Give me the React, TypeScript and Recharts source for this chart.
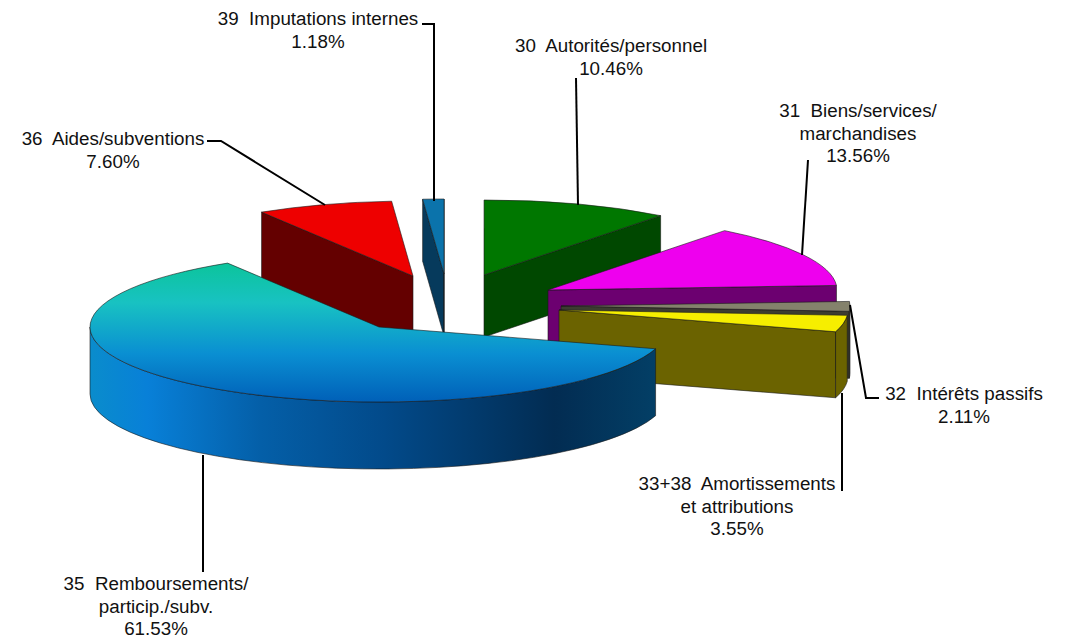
import React from "react";
import { PieChart, Pie } from "recharts";

// drawing order is back to front, so the list starts at "36" and the big slice comes last
const codes = ["36", "39", "30", "31", "32", "33", "35"];
const values = [7.6, 1.18, 10.46, 13.56, 2.11, 3.55, 61.53];
const labelLines = [
  ["36  Aides/subventions"],
  ["39  Imputations internes"],
  ["30  Autorités/personnel"],
  ["31  Biens/services/", "marchandises"],
  ["32  Intérêts passifs"],
  ["33+38  Amortissements", "et attributions"],
  ["35  Remboursements/", "particip./subv."],
];

const rows = codes.map((code, i) => ({ code, name: labelLines[i].join(" "), value: values[i] }));

// layout of the exploded 3D look
const CX = 444;
const CY = 290;
const RX = 289;
const RY = 75;

const apex: Record<string, number[]> = {
  "36": [413, 276, 72],
  "39": [444, 274, 62],
  "30": [484, 275, 62],
  "31": [548, 290, 62],
  "32": [561, 306, 67],
  "33": [559, 310, 66],
  "35": [379, 327, 67],
};
const topFill: Record<string, string> = {
  "36": "#ee0000",
  "39": "#0b73ab",
  "30": "#007700",
  "31": "#ee00ee",
  "32": "#84826c",
  "33": "#f6ee00",
  "35": "url(#blueTop)",
};
const wallFill: Record<string, string> = {
  "36": "#640000",
  "39": "#063a5c",
  "30": "#004800",
  "31": "#6c0070",
  "32": "#3c3c30",
  "33": "#6b6300",
  "35": "url(#blueWall)",
};
const labelPos = [
  { x: 113, y: 139 },
  { x: 318, y: 19 },
  { x: 611, y: 46 },
  { x: 858, y: 111 },
  { x: 964, y: 394 },
  { x: 737, y: 484 },
  { x: 156, y: 584 },
];
const leaders = [
  "207,141 221,141 325,205",
  "422,24 434,24 434,201",
  "576,78 578,205",
  "808,160 802,255",
  "850,305 866,398 879,398",
  "842,393 842,491",
  "203,455 203,572",
];

const EDGE = "#1a1a1a";

const Slice3D = (props: any) => {
  const code = props.code ?? props.payload?.code;
  const [ax, ay, depth] = apex[code];
  const a1 = 90 - props.startAngle;
  const a2 = 90 - props.endAngle;
  const rx = props.outerRadius;
  const ry = (props.outerRadius * RY) / RX;
  const pt = (deg: number, drop = 0) => {
    const t = (deg * Math.PI) / 180;
    return [ax + rx * Math.sin(t), ay - ry * Math.cos(t) + drop];
  };
  const arc = (deg: number, large: boolean, sweep: number, drop = 0) => {
    const p = pt(deg, drop);
    return `A${rx} ${ry} 0 ${large ? 1 : 0} ${sweep} ${p[0]} ${p[1]}`;
  };
  const s = pt(a1);
  const sin = (deg: number) => Math.sin((deg * Math.PI) / 180);

  const cut = (deg: number) => {
    const o = pt(deg);
    return `M${ax} ${ay}L${o[0]} ${o[1]}L${o[0]} ${o[1] + depth}L${ax} ${ay + depth}Z`;
  };

  // outer wall only shows on the front half of the ellipse
  const mod = (d: number) => ((d % 360) + 360) % 360;
  const from = mod(a1);
  const to = from + (a2 - a1);
  const w1 = Math.max(from, 90);
  const w2 = Math.min(to, 270);
  let wall = "";
  if (w2 > w1) {
    const p = pt(w1);
    const q = pt(w2);
    wall = `M${p[0]} ${p[1]}${arc(w2, w2 - w1 > 180, 1)}L${q[0]} ${q[1] + depth}${arc(w1, w2 - w1 > 180, 0, depth)}Z`;
  }

  const wf = wallFill[code];
  return (
    <g>
      {sin(a1) < 0 && <path d={cut(a1)} fill={wf} stroke={EDGE} strokeWidth={0.6} />}
      {sin(a2) > 0 && <path d={cut(a2)} fill={wf} stroke={EDGE} strokeWidth={0.6} />}
      {wall && <path d={wall} fill={wf} stroke={EDGE} strokeWidth={0.6} />}
      <path
        d={`M${ax} ${ay}L${s[0]} ${s[1]}${arc(a2, a2 - a1 > 180, 1)}Z`}
        fill={topFill[code]}
        stroke={EDGE}
        strokeWidth={0.6}
      />
    </g>
  );
};

const SliceLabel = (props: any) => {
  const i = props.index;
  const pos = labelPos[i];
  const lines = [...labelLines[i], `${values[i].toFixed(2)}%`];
  return (
    <g>
      <polyline points={leaders[i]} fill="none" stroke="#000" strokeWidth={2} />
      <text
        x={pos.x}
        textAnchor="middle"
        fontFamily="'Liberation Sans', Arial, sans-serif"
        fontSize={18.8}
        fill="#111"
        style={{ whiteSpace: "pre" }}
      >
        {lines.map((l, k) => (
          <tspan key={k} x={pos.x} y={pos.y + 6 + k * 22.5}>
            {l}
          </tspan>
        ))}
      </text>
    </g>
  );
};

const App = () => {
  return (
    <div style={{ position: "absolute", left: 0, top: 0, width: 1068, height: 638, background: "#fff" }}>
      <PieChart width={1068} height={638} margin={{ top: 0, right: 0, bottom: 0, left: 0 }}>
        <defs>
          <linearGradient id="blueTop" gradientUnits="userSpaceOnUse" x1="0" y1="264" x2="0" y2="402">
            <stop offset="0" stopColor="#0cc49c" />
            <stop offset="0.28" stopColor="#18c2c2" />
            <stop offset="0.65" stopColor="#0a8fd2" />
            <stop offset="1" stopColor="#0060b8" />
          </linearGradient>
          <linearGradient id="blueWall" gradientUnits="userSpaceOnUse" x1="91" y1="0" x2="656" y2="0">
            <stop offset="0" stopColor="#0a8ccc" />
            <stop offset="0.1" stopColor="#0880d8" />
            <stop offset="0.3" stopColor="#045fa8" />
            <stop offset="0.52" stopColor="#024a8a" />
            <stop offset="0.82" stopColor="#022c52" />
            <stop offset="1" stopColor="#033f66" />
          </linearGradient>
        </defs>
        <Pie
          data={rows}
          dataKey="value"
          nameKey="name"
          cx={CX}
          cy={CY}
          innerRadius={0}
          outerRadius={RX}
          startAngle={121.6}
          endAngle={-238.4}
          stroke="none"
          shape={Slice3D}
          label={SliceLabel}
          labelLine={false}
          isAnimationActive={false}
        />
      </PieChart>
    </div>
  );
};

export default App;
